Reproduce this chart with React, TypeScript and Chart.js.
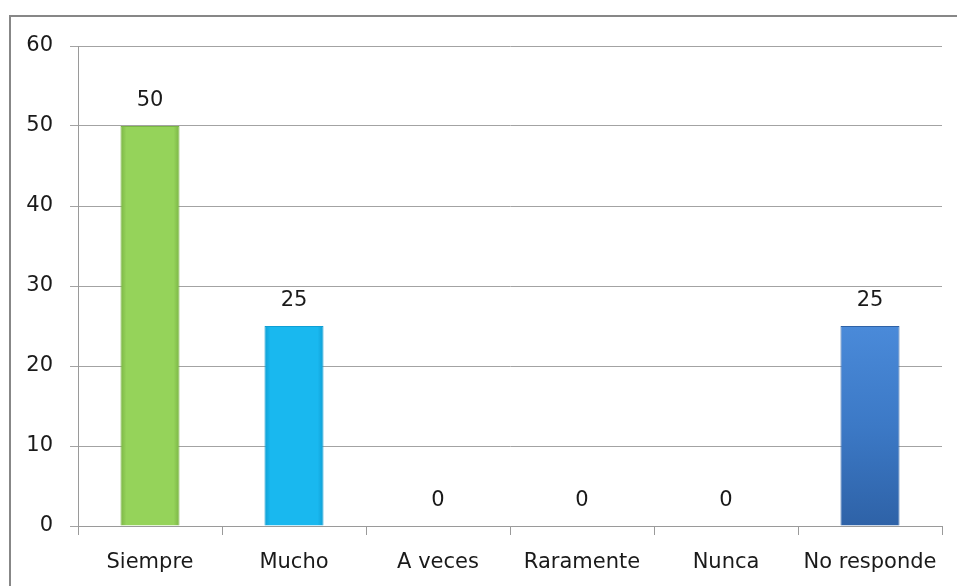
import React, { useEffect, useRef } from "react";
import { Chart, registerables } from "chart.js";

Chart.register(...registerables);

const categories = ["Siempre", "Mucho", "A veces", "Raramente", "Nunca", "No responde"];
const values = [50, 25, 0, 0, 0, 25];
const barColors = ["#95d35a", "#19b8ef", "#92d050", "#92d050", "#92d050", "#3f7fcf"];
const barEdgeColors = ["#7bb545", "#0f9fd4", "#7bb545", "#7bb545", "#7bb545", "#2f62a6"];
const yTicks = [0, 10, 20, 30, 40, 50, 60];

const FONT = "'DejaVu Sans', sans-serif";

const frame = {
  id: "frame",
  beforeDraw(chart: any) {
    const ctx = chart.ctx;
    ctx.save();
    ctx.fillStyle = "#ffffff";
    ctx.fillRect(0, 0, chart.width, chart.height);
    ctx.strokeStyle = "#878787";
    ctx.lineWidth = 2;
    ctx.beginPath();
    ctx.moveTo(10, chart.height + 5);
    ctx.lineTo(10, 16);
    ctx.lineTo(chart.width + 5, 16);
    ctx.stroke();
    ctx.restore();
  },
};

const valueLabels = {
  id: "valueLabels",
  afterDatasetsDraw(chart: any) {
    const ctx = chart.ctx;
    const meta = chart.getDatasetMeta(0);
    ctx.save();
    ctx.font = `21px ${FONT}`;
    ctx.fillStyle = "#1a1a1a";
    ctx.textAlign = "center";
    ctx.textBaseline = "alphabetic";
    meta.data.forEach((el: any, i: number) => {
      ctx.fillText(String(values[i]), el.x, el.y - 20);
    });
    ctx.restore();
  },
};

export default function App() {
  const ref = useRef<HTMLCanvasElement | null>(null);

  useEffect(() => {
    if (!ref.current) return;
    const chart = new Chart(ref.current, {
      type: "bar",
      data: {
        labels: categories,
        datasets: [
          {
            data: values,
            backgroundColor: (c: any) => {
              const chart = c.chart;
              const i = c.dataIndex;
              const base = barColors[i];
              const xs = chart.scales && chart.scales.x;
              const ys = chart.scales && chart.scales.y;
              if (!chart.chartArea || !xs || !ys || i === undefined) return base;
              const cx = xs.getPixelForValue(i);
              const w = (xs.width / categories.length) * 0.41;
              const g = chart.ctx.createLinearGradient(cx - w / 2, 0, cx + w / 2, 0);
              g.addColorStop(0, barEdgeColors[i]);
              g.addColorStop(0.1, base);
              g.addColorStop(0.9, base);
              g.addColorStop(1, barEdgeColors[i]);
              if (i === 5) {
                const top = ys.getPixelForValue(values[i]);
                const bottom = ys.getPixelForValue(0);
                const gv = chart.ctx.createLinearGradient(0, top, 0, bottom);
                gv.addColorStop(0, "#4a8ad9");
                gv.addColorStop(0.5, "#3c79c6");
                gv.addColorStop(1, "#2e62a7");
                return gv;
              }
              return g;
            },
            borderColor: barEdgeColors,
            borderWidth: 1,
            barPercentage: 0.41,
            categoryPercentage: 1,
          },
        ],
      },
      options: {
        responsive: false,
        animation: false,
        maintainAspectRatio: false,
        layout: { padding: { top: 46, right: 15, left: 0, bottom: 0 } },
        plugins: {
          legend: { display: false },
          tooltip: { enabled: false },
        },
        scales: {
          x: {
            grid: {
              offset: true,
              drawOnChartArea: false,
              drawTicks: true,
              tickLength: 9,
              color: "#9a9a9a",
            },
            border: { color: "#9a9a9a" },
            ticks: {
              font: { family: FONT, size: 21 },
              color: "#1a1a1a",
              padding: 15,
              maxRotation: 0,
              autoSkip: false,
            },
            afterFit: (s: any) => {
              s.height = 60;
            },
          },
          y: {
            min: 0,
            max: 60,
            afterBuildTicks: (s: any) => {
              s.ticks = yTicks.map((v) => ({ value: v }));
            },
            grid: {
              color: "#a3a3a3",
              drawTicks: true,
              tickLength: 8,
            },
            border: { color: "#9a9a9a" },
            ticks: {
              font: { family: FONT, size: 21 },
              color: "#1a1a1a",
              padding: 17,
            },
            afterFit: (s: any) => {
              s.width = 78;
            },
          },
        },
      },
      plugins: [frame, valueLabels],
    });
    return () => chart.destroy();
  }, []);

  return (
    <div
      style={{
        position: "fixed",
        left: 0,
        top: 0,
        width: 957,
        height: 586,
        background: "#fff",
        overflow: "hidden",
      }}
    >
      <canvas ref={ref} width={957} height={586} style={{ position: "absolute", left: 0, top: 0 }} />
    </div>
  );
}
